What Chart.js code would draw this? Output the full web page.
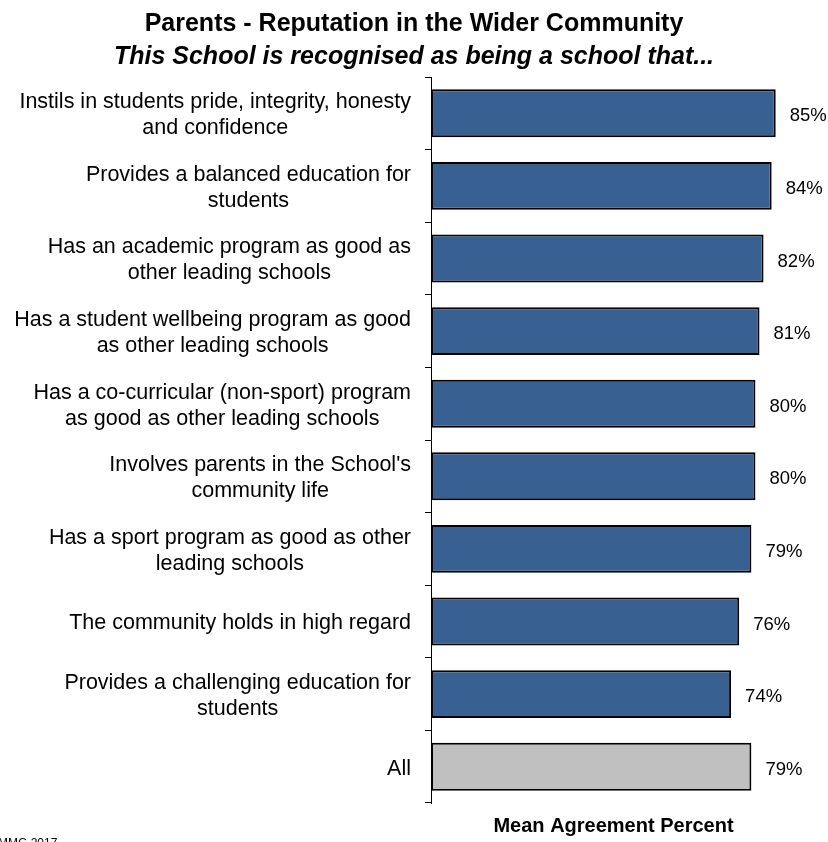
<!DOCTYPE html>
<html>
<head>
<meta charset="utf-8">
<script src="https://cdn.jsdelivr.net/npm/chart.js@4"></script>
<style>
  html, body { margin: 0; padding: 0; background: #fff; }
  #wrap { width: 828px; height: 842px; position: relative; }
</style>
</head>
<body>
<div id="wrap"><canvas id="repChart" width="828" height="842"></canvas></div>
<script>
// chart data
const categories = [
    ['Instils in students pride, integrity, honesty', 'and confidence'],
    ['Provides a balanced education for', 'students'],
    ['Has an academic program as good as', 'other leading schools'],
    ['Has a student wellbeing program as good', 'as other leading schools'],
    ['Has a co-curricular (non-sport) program', 'as good as other leading schools'],
    ["Involves parents in the School's", 'community life'],
    ['Has a sport program as good as other', 'leading schools'],
    ['The community holds in high regard'],
    ['Provides a challenging education for', 'students'],
    ['All']
];
const agreement = [85, 84, 82, 81, 80, 80, 79, 76, 74, 79];
const barColors = ['#386192', '#386192', '#386192', '#386192', '#386192',
                   '#386192', '#386192', '#386192', '#386192', '#C0C0C0'];

const FONT = '"Liberation Sans", Arial, sans-serif';
const AXIS_X = 431;
const SIDE_PAD = 32;

// draws the category labels: centred lines, block right-aligned against the axis
const labelPlugin = {
    id: 'catLabels',
    afterDraw(chart) {
        const ctx = chart.ctx;
        const yScale = chart.scales.y;
        ctx.save();
        ctx.font = '21.5px ' + FONT;
        ctx.fillStyle = '#000';
        ctx.textBaseline = 'middle';
        ctx.textAlign = 'center';
        const lineH = 26;
        categories.forEach((lines, i) => {
            const y = yScale.getPixelForTick(i) + 2;
            const w = Math.max(...lines.map(l => ctx.measureText(l).width));
            const cx = AXIS_X - 20 - w / 2;
            const top = y - (lines.length - 1) * lineH / 2;
            lines.forEach((l, j) => ctx.fillText(l, cx, top + j * lineH));
        });
        // footer
        ctx.font = '12px ' + FONT;
        ctx.textAlign = 'left';
        ctx.textBaseline = 'alphabetic';
        ctx.fillText('MMG 2017', -2, 847);
        ctx.restore();
    }
};

// value labels right of each bar
const valuePlugin = {
    id: 'valueLabels',
    afterDatasetsDraw(chart) {
        const ctx = chart.ctx;
        const meta = chart.getDatasetMeta(0);
        ctx.save();
        ctx.font = '18.5px ' + FONT;
        ctx.fillStyle = '#000';
        ctx.textAlign = 'left';
        ctx.textBaseline = 'middle';
        meta.data.forEach((bar, i) => {
            ctx.fillText(agreement[i] + '%', bar.x + 14, bar.y + 3);
        });
        ctx.restore();
    }
};

const ctx = document.getElementById('repChart').getContext('2d');
window.myChart = new Chart(ctx, {
    type: 'bar',
    data: {
        labels: categories,
        datasets: [{
            data: agreement,
            backgroundColor: barColors,
            borderColor: '#000',
            borderWidth: 2,
            borderSkipped: false,
            barPercentage: 0.66,
            categoryPercentage: 1
        }]
    },
    options: {
        indexAxis: 'y',
        responsive: false,
        animation: false,
        layout: { padding: { top: 9, right: SIDE_PAD, bottom: 4, left: SIDE_PAD } },
        plugins: {
            legend: { display: false },
            tooltip: { enabled: false },
            title: {
                display: true,
                text: 'Parents - Reputation in the Wider Community',
                color: '#000',
                font: { family: FONT, size: 25, weight: 'bold', lineHeight: 1.2 },
                padding: { top: 0, bottom: 3 }
            },
            subtitle: {
                display: true,
                text: 'This School is recognised as being a school that...',
                color: '#000',
                font: { family: FONT, size: 25, weight: 'bold', style: 'italic', lineHeight: 1.2 },
                padding: { top: 0, bottom: 5 }
            }
        },
        scales: {
            x: {
                min: 0,
                max: 90,
                grid: { display: false },
                border: { display: false },
                ticks: { display: false },
                title: {
                    display: true,
                    text: 'Mean Agreement Percent',
                    color: '#000',
                    font: { family: FONT, size: 20, weight: 'bold', lineHeight: 1.2 },
                    padding: { top: 3, bottom: 0 }
                }
            },
            y: {
                grid: {
                    offset: true,
                    drawOnChartArea: false,
                    drawTicks: true,
                    tickLength: 6,
                    color: '#000'
                },
                border: { display: true, color: '#000', width: 1 },
                ticks: { display: false },
                afterFit(scale) { scale.width = AXIS_X - SIDE_PAD; }
            }
        }
    },
    plugins: [labelPlugin, valuePlugin]
});
</script>
</body>
</html>
